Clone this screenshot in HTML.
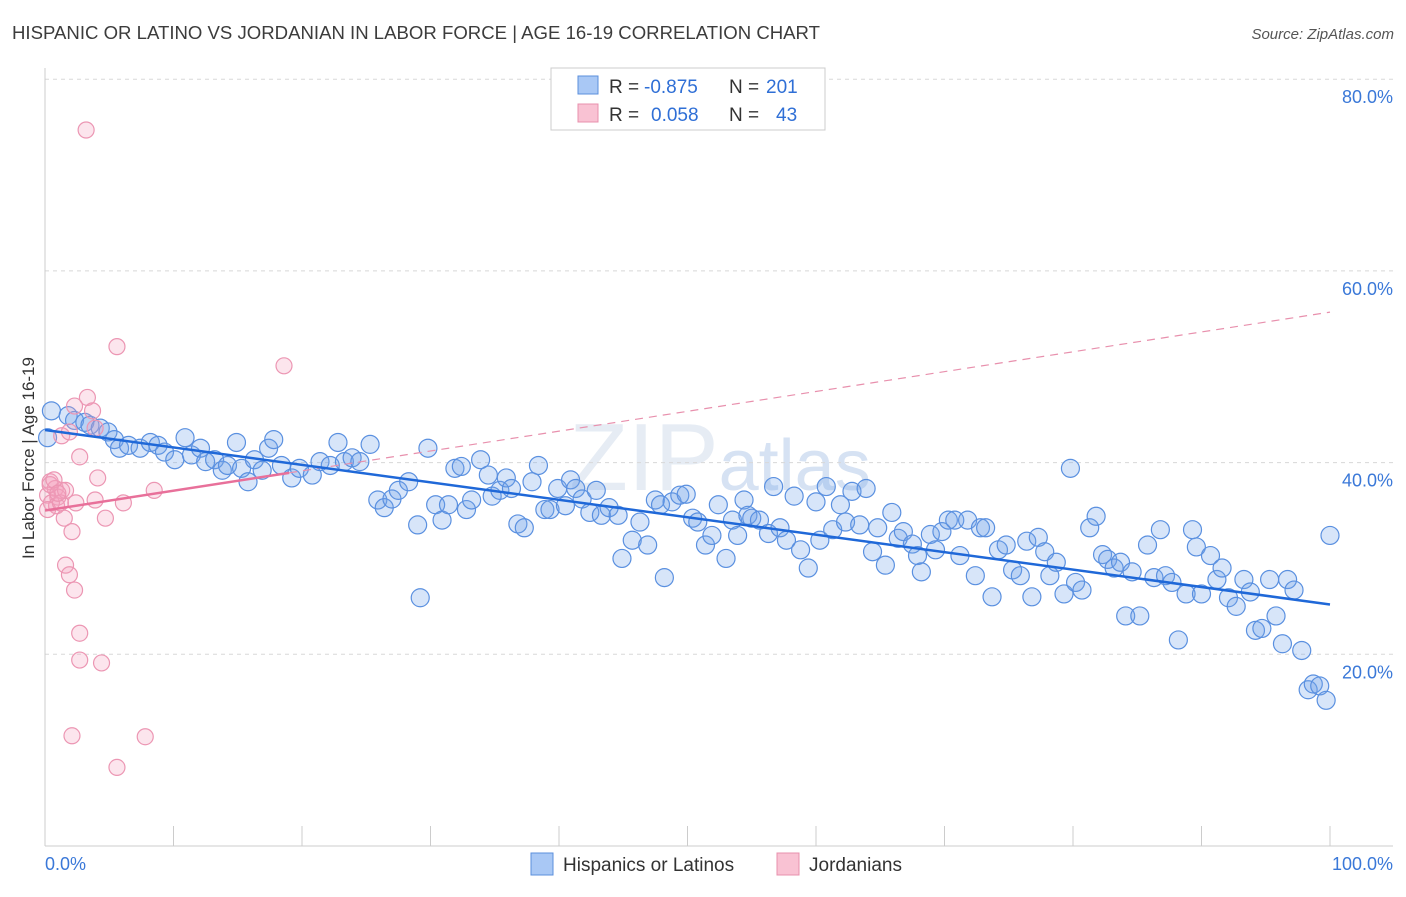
<!DOCTYPE html>
<html><head><meta charset="utf-8">
<style>
body{margin:0;background:#fff;font-family:"Liberation Sans",sans-serif;}
svg text{font-family:"Liberation Sans",sans-serif;white-space:pre;}
</style></head>
<body>
<svg id="chart" width="1406" height="892" xmlns="http://www.w3.org/2000/svg" xml:space="preserve">
<text x="12" y="39" font-size="18" fill="#3c3c3c" textLength="808" lengthAdjust="spacingAndGlyphs">HISPANIC OR LATINO VS JORDANIAN IN LABOR FORCE | AGE 16-19 CORRELATION CHART</text>
<text x="1394" y="39" font-size="15" fill="#555" text-anchor="end" font-style="italic">Source: ZipAtlas.com</text>
<text x="720" y="490" font-size="96" fill="#e6ecf4" text-anchor="middle" font-family="Liberation Serif">ZIP<tspan font-family="Liberation Sans" font-size="72" fill="#d6e2f3">atlas</tspan></text>
<g id="grid"></g>
<g id="axes"></g>
<g id="marks"></g>
<text transform="translate(34,458) rotate(-90)" font-size="17" fill="#333" text-anchor="middle">In Labor Force | Age 16-19</text>
<g>
<rect x="551" y="68" width="274" height="62" fill="#fff" stroke="#ccc"/>
<rect x="578" y="76" width="20" height="18" fill="#a9c8f5" stroke="#5b8fdc"/>
<rect x="578" y="104" width="20" height="18" fill="#f9c2d3" stroke="#e890ad"/>
<text x="609" y="93" font-size="19" fill="#333">R =</text>
<text x="644" y="93" font-size="19" fill="#2f6fd6">-0.875</text>
<text x="729" y="93" font-size="19" fill="#333">N =</text>
<text x="766" y="93" font-size="19" fill="#2f6fd6">201</text>
<text x="609" y="121" font-size="19" fill="#333">R =</text>
<text x="651" y="121" font-size="19" fill="#2f6fd6">0.058</text>
<text x="729" y="121" font-size="19" fill="#333">N =</text>
<text x="776" y="121" font-size="19" fill="#2f6fd6">43</text>
</g>
<g>
<rect x="531" y="853" width="22" height="22" fill="#a9c8f5" stroke="#5b8fdc"/>
<text x="563" y="871" font-size="19" fill="#333">Hispanics or Latinos</text>
<rect x="777" y="853" width="22" height="22" fill="#f9c2d3" stroke="#e890ad"/>
<text x="809" y="871" font-size="19" fill="#333">Jordanians</text>
</g>
</svg>
<script>
const xTicks=[0,10,20,30,40,50,60,70,80,90,100];
const yTicks=[20,40,60,80];
const blueX=[0.5,0.2,1.8,2.3,3.1,3.5,4.3,4.9,5.4,5.8,6.5,7.4,8.2,8.8,9.3,10.1,10.9,11.4,12.1,12.5,13.2,13.8,14.2,14.9,15.3,15.8,16.3,16.9,17.4,17.8,18.4,19.2,19.8,20.8,21.4,22.2,22.8,23.3,23.9,24.5,25.3,25.9,26.4,27.0,27.5,28.3,29.0,29.2,29.8,30.4,30.9,31.4,31.9,32.4,32.8,33.2,33.9,34.5,34.8,35.4,35.9,36.3,36.8,37.3,37.9,38.4,38.9,39.3,39.9,40.5,40.9,41.3,41.8,42.4,42.9,43.3,43.9,44.6,44.9,45.7,46.3,46.9,47.5,47.9,48.2,48.8,49.4,49.9,50.4,50.8,51.4,51.9,52.4,53.0,53.5,53.9,54.4,54.7,55.0,55.6,56.3,56.7,57.2,57.7,58.3,58.8,59.4,60.0,60.3,60.8,61.3,61.9,62.3,62.8,63.4,63.9,64.4,64.8,65.4,65.9,66.4,66.8,67.5,67.9,68.2,68.9,69.3,69.8,70.3,70.8,71.2,71.8,72.4,72.8,73.2,73.7,74.2,74.8,75.3,75.9,76.4,76.8,77.3,77.8,78.2,78.7,79.3,79.8,80.2,80.7,81.3,81.8,82.3,82.7,83.2,83.7,84.1,84.6,85.2,85.8,86.3,86.8,87.2,87.7,88.2,88.8,89.3,89.6,90.0,90.7,91.2,91.6,92.1,92.7,93.3,93.8,94.2,94.7,95.3,95.8,96.3,96.7,97.2,97.8,98.3,98.7,99.2,99.7,100];
const blueY=[45.4,42.6,44.9,44.4,44.2,43.9,43.6,43.2,42.4,41.5,41.8,41.5,42.1,41.8,41.1,40.3,42.6,40.8,41.5,40.1,40.3,39.2,39.7,42.1,39.4,38.0,40.3,39.2,41.5,42.4,39.7,38.4,39.4,38.7,40.1,39.7,42.1,40.1,40.5,40.1,41.9,36.1,35.3,36.2,37.1,38.0,33.5,25.9,41.5,35.6,34.0,35.6,39.4,39.6,35.1,36.1,40.3,38.7,36.5,37.1,38.4,37.3,33.6,33.2,38.0,39.7,35.1,35.1,37.3,35.5,38.2,37.3,36.2,34.8,37.1,34.5,35.3,34.5,30.0,31.9,33.8,31.4,36.1,35.6,28.0,35.9,36.6,36.7,34.2,33.8,31.4,32.4,35.6,30.0,34.0,32.4,36.1,34.5,34.2,34.0,32.6,37.5,33.2,31.9,36.5,30.9,29.0,35.9,31.9,37.5,33.0,35.6,33.8,37.0,33.5,37.3,30.7,33.2,29.3,34.8,32.1,32.8,31.5,30.3,28.6,32.5,30.9,32.8,34.0,34.0,30.3,34.0,28.2,33.2,33.2,26.0,30.9,31.4,28.8,28.2,31.8,26.0,32.2,30.7,28.2,29.6,26.3,39.4,27.5,26.7,33.2,34.4,30.4,29.9,29.0,29.6,24.0,28.6,24.0,31.4,28.0,33.0,28.2,27.5,21.5,26.3,33.0,31.2,26.3,30.3,27.8,29.0,25.9,25.0,27.8,26.5,22.5,22.7,27.8,24.0,21.1,27.8,26.7,20.4,16.3,16.9,16.7,15.2,32.4];
const pinkX=[3.2,5.6,18.6,3.3,2.3,3.7,1.3,1.9,3.9,2.7,0.4,0.8,0.2,1.0,1.3,0.5,0.9,0.2,1.2,1.6,4.1,2.4,3.9,6.1,8.5,1.5,4.7,2.1,1.6,1.9,2.3,2.7,2.7,4.4,2.1,7.8,5.6,0.4,0.7,1.0];
const pinkY=[74.7,52.1,50.1,46.8,45.9,45.4,42.8,43.2,43.6,40.6,38.0,37.3,36.6,36.4,37.1,35.8,35.5,35.1,35.8,37.1,38.4,35.8,36.1,35.8,37.1,34.2,34.2,32.8,29.3,28.3,26.7,22.2,19.4,19.1,11.5,11.4,8.2,37.7,38.2,36.8];
const blueTrend=[43.4,25.2];
const pinkTrend=[35.0,55.7];
const pinkSolidEnd=19;

const NS='http://www.w3.org/2000/svg';
const X=v=>45+v*12.85;
const Y=v=>846-v*9.585;
function mk(tag,attrs,parent){const e=document.createElementNS(NS,tag);for(const k in attrs)e.setAttribute(k,attrs[k]);parent.appendChild(e);return e;}
const grid=document.getElementById('grid'),axes=document.getElementById('axes'),marks=document.getElementById('marks');
yTicks.forEach(t=>{
  const l=mk('line',{x1:45,x2:1393,y1:Y(t),y2:Y(t),stroke:'#d8d8d8','stroke-dasharray':'4,4'},grid);
  
  
  const tx=mk('text',{x:1393,y:Y(t)+24,'font-size':18,fill:'#3a78d8','text-anchor':'end'},axes);
  tx.textContent=t.toFixed(1)+'%';
  
  
});
const al=mk('line',{x1:45,x2:45,y1:68,y2:846,stroke:'#ccc'},axes);


const bl=mk('line',{x1:45,x2:1393,y1:846,y2:846,stroke:'#ccc'},axes);


xTicks.forEach(t=>{
  const l=mk('line',{x1:X(t),x2:X(t),y1:826,y2:846,stroke:'#ccc'},axes);
  
  
});
[[0,'start','0.0%',45],[100,'end','100.0%',1393]].forEach(a=>{
  const tx=mk('text',{x:a[3],y:870,'font-size':18,fill:'#3a78d8','text-anchor':a[1]},axes);
  tx.textContent=a[2];
  
  
});
blueX.forEach((x,i)=>{
  const c=mk('circle',{cx:X(x),cy:Y(blueY[i]),r:9,fill:'rgba(110,160,235,0.28)',stroke:'#5a90e0','stroke-width':1.2},marks);
  
  
});
pinkX.forEach((x,i)=>{
  const c=mk('circle',{cx:X(x),cy:Y(pinkY[i]),r:8,fill:'rgba(245,160,190,0.28)',stroke:'#ec96b3','stroke-width':1.2},marks);
  
  
});
const pAt=x=>pinkTrend[0]+(pinkTrend[1]-pinkTrend[0])*x/100;
const pd=mk('line',{x1:X(pinkSolidEnd),y1:Y(pAt(pinkSolidEnd)),x2:X(100),y2:Y(pinkTrend[1]),stroke:'#e890ad','stroke-width':1.2,'stroke-dasharray':'8,6'},marks);


const ps=mk('line',{x1:X(0),y1:Y(pinkTrend[0]),x2:X(pinkSolidEnd),y2:Y(pAt(pinkSolidEnd)),stroke:'#e8709a','stroke-width':2.5},marks);


const bt=mk('line',{x1:X(0),y1:Y(blueTrend[0]),x2:X(100),y2:Y(blueTrend[1]),stroke:'#1f68d8','stroke-width':2.5},marks);


</script>
</body></html>
